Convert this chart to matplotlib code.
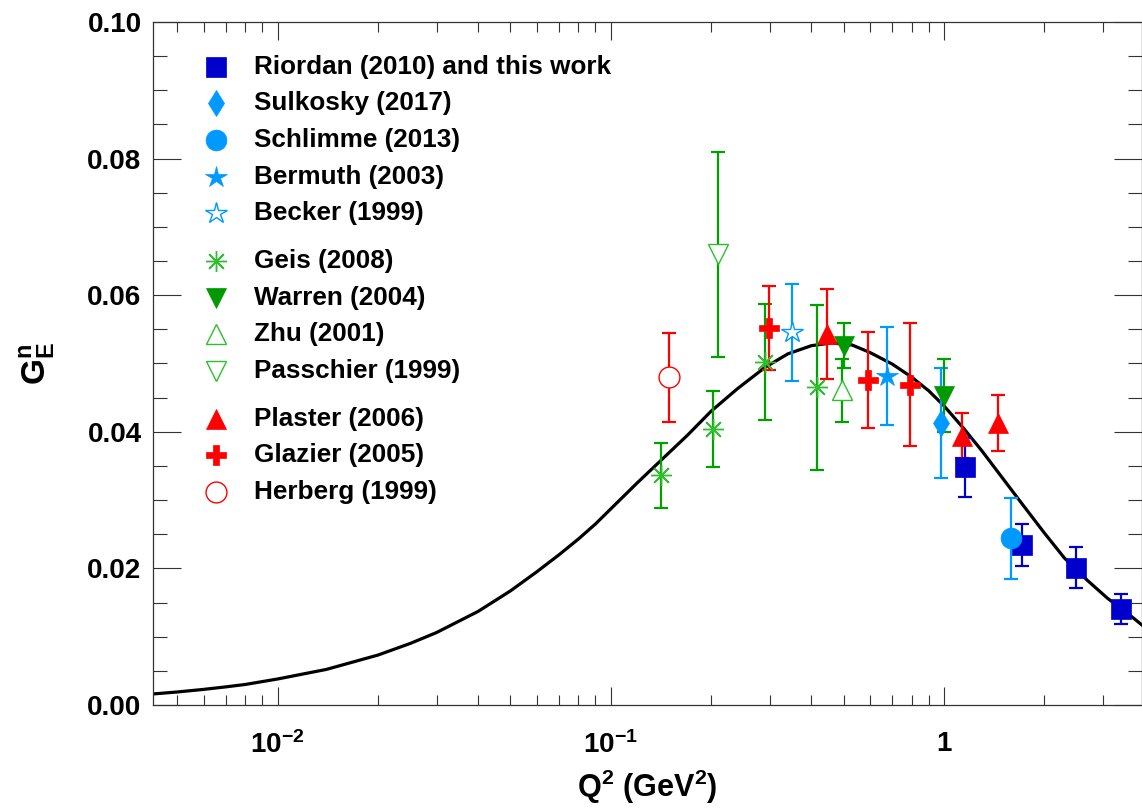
import numpy as np
import matplotlib
matplotlib.use('Agg')
import matplotlib.pyplot as plt
from matplotlib.ticker import MultipleLocator, LogLocator, FuncFormatter, NullFormatter

plt.rcParams['font.family'] = ['Liberation Sans', 'DejaVu Sans']
plt.rcParams['font.weight'] = 'bold'
plt.rcParams['mathtext.fontset'] = 'custom'
plt.rcParams['mathtext.rm'] = 'Liberation Sans:bold'
plt.rcParams['mathtext.bf'] = 'Liberation Sans:bold'
plt.rcParams['mathtext.it'] = 'Liberation Sans:bold'

# ---- fit curve (Q^2 in GeV^2, G_E^n) ----
fit_q2 = [0.0042, 0.005, 0.006, 0.007, 0.008, 0.010, 0.014, 0.020, 0.025, 0.030,
          0.040, 0.050, 0.060, 0.070, 0.080, 0.090, 0.100, 0.120, 0.140, 0.170,
          0.200, 0.240, 0.290, 0.340, 0.400, 0.460, 0.530, 0.600, 0.700, 0.800,
          0.900, 1.000, 1.150, 1.300, 1.500, 1.700, 2.000, 2.300, 2.700, 3.100,
          3.500, 3.930]
fit_ge = [0.0016, 0.0019, 0.00228, 0.00265, 0.0030, 0.0038, 0.0052, 0.0073, 0.0090, 0.0106,
          0.0137, 0.0167, 0.0195, 0.0220, 0.0243, 0.0265, 0.0287, 0.0325, 0.0356, 0.0395,
          0.0430, 0.0463, 0.0494, 0.0514, 0.0526, 0.0530, 0.0527, 0.0516, 0.0499, 0.0480,
          0.0460, 0.0438, 0.0404, 0.0372, 0.0332, 0.0297, 0.0252, 0.0215, 0.0182, 0.0156,
          0.0137, 0.0117]

# ---- data sets ----
riordan_q2 = [1.156, 1.711, 2.486, 3.401]
riordan_ge = [0.0348, 0.0234, 0.0201, 0.0140]
riordan_err = [0.0043, 0.0031, 0.0030, 0.0022]

sulkosky_q2 = [0.977]
sulkosky_ge = [0.0413]
sulkosky_err = [0.0080]

schlimme_q2 = [1.586]
schlimme_ge = [0.0244]
schlimme_err = [0.0059]

bermuth_q2 = [0.673]
bermuth_ge = [0.0482]
bermuth_err = [0.0072]

becker_q2 = [0.349]
becker_ge = [0.0546]
becker_err = [0.0071]

geis_q2 = [0.1413, 0.2028, 0.2901, 0.4148]
geis_ge = [0.0336, 0.0404, 0.0502, 0.0465]
geis_err = [0.0047, 0.0056, 0.0085, 0.0121]

warren_q2 = [0.502, 1.000]
warren_ge = [0.0526, 0.0453]
warren_err = [0.0033, 0.0054]

zhu_q2 = [0.496]
zhu_ge = [0.0461]
zhu_err = [0.0046]

passchier_q2 = [0.2101]
passchier_ge = [0.0660]
passchier_err = [0.0150]

plaster_q2 = [0.4444, 1.130, 1.450]
plaster_ge = [0.0543, 0.0394, 0.0413]
plaster_err = [0.0066, 0.0033, 0.0041]

glazier_q2 = [0.2988, 0.590, 0.790]
glazier_ge = [0.0552, 0.0476, 0.0469]
glazier_err = [0.0061, 0.0070, 0.0090]

herberg_q2 = [0.1497]
herberg_ge = [0.0480]
herberg_err = [0.0065]

BLUE = '#0000cc'
AZURE = '#0099ff'
GREEN = '#009900'
LGREEN = '#2dbf2d'
RED = '#ff0000'

# label, data, marker, colour, face, size, edge width, error-bar colour
series = [
    ('Riordan (2010) and this work', riordan_q2, riordan_ge, riordan_err, 's', BLUE, BLUE, 15, 0.5, BLUE),
    ('Sulkosky (2017)', sulkosky_q2, sulkosky_ge, sulkosky_err, 'd', AZURE, AZURE, 13, 0.5, AZURE),
    ('Schlimme (2013)', schlimme_q2, schlimme_ge, schlimme_err, 'o', AZURE, AZURE, 15, 0.5, AZURE),
    ('Bermuth (2003)', bermuth_q2, bermuth_ge, bermuth_err, '*', AZURE, AZURE, 16, 0.5, AZURE),
    ('Becker (1999)', becker_q2, becker_ge, becker_err, '*', AZURE, 'white', 16, 1.0, AZURE),
    ('Geis (2008)', geis_q2, geis_ge, geis_err, (8, 2, 0), LGREEN, LGREEN, 15, 1.0, '#00a000'),
    ('Warren (2004)', warren_q2, warren_ge, warren_err, 'v', GREEN, GREEN, 15, 0.5, '#00a000'),
    ('Zhu (2001)', zhu_q2, zhu_ge, zhu_err, '^', LGREEN, 'white', 15, 1.0, '#00a000'),
    ('Passchier (1999)', passchier_q2, passchier_ge, passchier_err, 'v', LGREEN, 'white', 15, 1.0, '#00a000'),
    ('Plaster (2006)', plaster_q2, plaster_ge, plaster_err, '^', RED, RED, 15, 0.5, RED),
    ('Glazier (2005)', glazier_q2, glazier_ge, glazier_err, 'P', RED, RED, 15, 0.5, RED),
    ('Herberg (1999)', herberg_q2, herberg_ge, herberg_err, 'o', RED, 'white', 15, 1.0, RED),
]

fig = plt.figure(figsize=(11.42, 8.09), dpi=100)
ax = fig.add_axes([0.1337, 0.1286, 0.8663, 0.8443])

ax.plot(fit_q2, fit_ge, color='black', lw=2.3, zorder=2, solid_joinstyle='round')

for i, (lab, q, g, e, mk, col, face, ms, mew, ecol) in enumerate(series):
    ax.errorbar(q, g, yerr=e, fmt='none', ecolor=ecol, elinewidth=1.6,
                capsize=4.8, capthick=1.6, zorder=3 + i * 0.01)
    ax.plot(q, g, ls='none', marker=mk, ms=ms, mfc=face, mec=col, mew=mew,
            zorder=4 + i * 0.01)

# legend, drawn in axes fraction
mk_x, txt_x = 0.0637, 0.1024
y = 0.9346
for i, (lab, q, g, e, mk, col, face, ms, mew, ecol) in enumerate(series):
    if i in (5, 9):
        y -= 0.0161
    ax.plot([mk_x], [y], ls='none', marker=mk, ms=ms, mfc=face, mec=col, mew=mew,
            transform=ax.transAxes, clip_on=False, zorder=6)
    ax.text(txt_x, y, lab, transform=ax.transAxes, ha='left', va='center',
            fontsize=18.8, fontweight='bold')
    y -= 0.0537

ax.set_xscale('log')
ax.set_xlim(0.00422, 3.93)
ax.set_ylim(0.0, 0.1)

ax.yaxis.set_major_locator(MultipleLocator(0.02))
ax.yaxis.set_minor_locator(MultipleLocator(0.005))
ax.yaxis.set_major_formatter(FuncFormatter(lambda v, p: f'{v:.2f}'))

xlabels = {-2: r'$\mathbf{10^{-2}}$', -1: r'$\mathbf{10^{-1}}$', 0: '1'}


def fmt_x(v, pos):
    k = int(round(np.log10(v)))
    return xlabels.get(k, '')


ax.xaxis.set_major_locator(LogLocator(base=10))
ax.xaxis.set_minor_locator(LogLocator(base=10, subs=np.arange(2, 10)))
ax.xaxis.set_major_formatter(FuncFormatter(fmt_x))
ax.xaxis.set_minor_formatter(NullFormatter())

ax.tick_params(which='both', direction='in', top=True, right=True, width=0.8,
               color='#333333')
ax.tick_params(axis='x', which='major', length=13, pad=19, labelsize=20)
ax.tick_params(axis='x', which='minor', length=7)
ax.tick_params(axis='y', which='major', length=20, pad=8, labelsize=20)
ax.tick_params(axis='y', which='minor', length=10)
for s in ax.spines.values():
    s.set_linewidth(0.9)
    s.set_color('#333333')

ax.set_xlabel(r'$\mathbf{Q^{2}\ (GeV^{2})}$', fontsize=22, labelpad=6)
ax.set_ylabel(r'$\mathbf{G_{E}^{n}}$', fontsize=24, labelpad=22)

fig.savefig('out.png', dpi=100)
